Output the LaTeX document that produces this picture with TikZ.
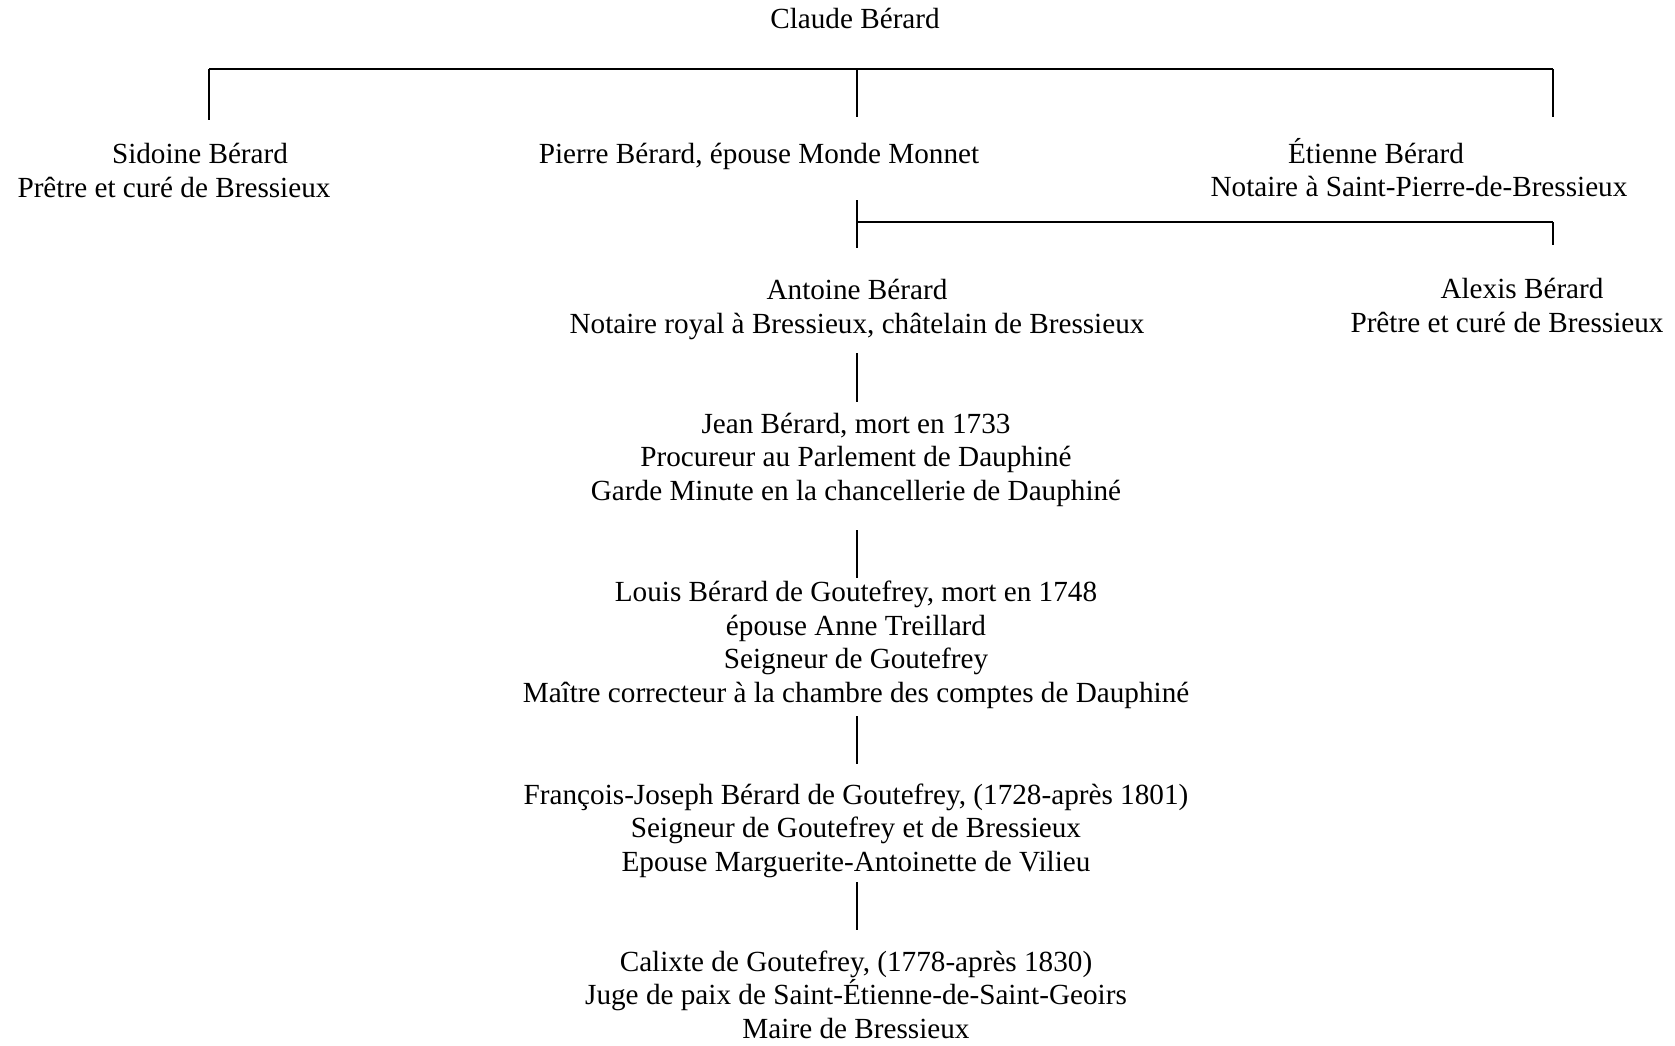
\documentclass[tikz,border=0pt]{standalone}
\usepackage{fontspec}
\setmainfont{Liberation Serif}

\begin{document}
\begin{tikzpicture}
  [x=0.5pt,y=-0.5pt,every node/.style={anchor=base,align=center,inner sep=0pt,
     font=\fontsize{14.6}{16.75}\selectfont},
   tree/.style={line width=1pt}]
  \useasboundingbox (0,0) rectangle (1675,1045);

  % multi-line nodes sit on the baseline of their last line
  \node (claude)   at (855,28)   {Claude Bérard};
  \node (sidoine)  at (200,163)  {Sidoine Bérard};
  \node (sidoineT) at (174,197)  {Prêtre et curé de Bressieux};
  \node (pierre)   at (759,163)  {Pierre Bérard, épouse Monde Monnet};
  \node (etienne)  at (1376,163) {Étienne Bérard};
  \node (etienneT) at (1419,196) {Notaire à Saint-Pierre-de-Bressieux};
  \node (antoine)  at (857,333)  {Antoine Bérard\\Notaire royal à Bressieux, châtelain de Bressieux};
  \node (alexis)   at (1522,298) {Alexis Bérard};
  \node (alexisT)  at (1507,332) {Prêtre et curé de Bressieux};
  \node (jean)     at (856,500)  {Jean Bérard, mort en 1733\\Procureur au Parlement de Dauphiné\\Garde Minute en la chancellerie de Dauphiné};
  \node (louis)    at (856,702)  {Louis Bérard de Goutefrey, mort en 1748\\épouse Anne Treillard\\Seigneur de Goutefrey\\Maître correcteur à la chambre des comptes de Dauphiné};
  \node (francois) at (856,871)  {François-Joseph Bérard de Goutefrey, (1728-après 1801)\\Seigneur de Goutefrey et de Bressieux\\Epouse Marguerite-Antoinette de Vilieu};
  \node (calixte)  at (856,1038) {Calixte de Goutefrey, (1778-après 1830)\\Juge de paix de Saint-Étienne-de-Saint-Geoirs\\Maire de Bressieux};

  \coordinate (barL)  at (209,69);
  \coordinate (barM)  at (857,69);
  \coordinate (barR)  at (1553,69);
  \coordinate (toS)   at (209,120);
  \coordinate (toP)   at (857,117);
  \coordinate (toE)   at (1553,117);
  \coordinate (pDown) at (857,200);
  \coordinate (pBar)  at (857,222);
  \coordinate (toA)   at (857,248);
  \coordinate (eBar)  at (1553,222);
  \coordinate (toX)   at (1553,245);
  \coordinate (aDown) at (857,353);
  \coordinate (toJ)   at (857,402);
  \coordinate (jDown) at (857,530);
  \coordinate (toL)   at (857,578);
  \coordinate (lDown) at (857,716);
  \coordinate (toF)   at (857,764);
  \coordinate (fDown) at (857,882);
  \coordinate (toC)   at (857,930);

  \foreach \from/\to in {barL/barR, barL/toS, barM/toP, barR/toE, pDown/toA, pBar/eBar, eBar/toX,
                         aDown/toJ, jDown/toL, lDown/toF, fDown/toC}
    \draw[tree] (\from) -- (\to);

\end{tikzpicture}
\end{document}
